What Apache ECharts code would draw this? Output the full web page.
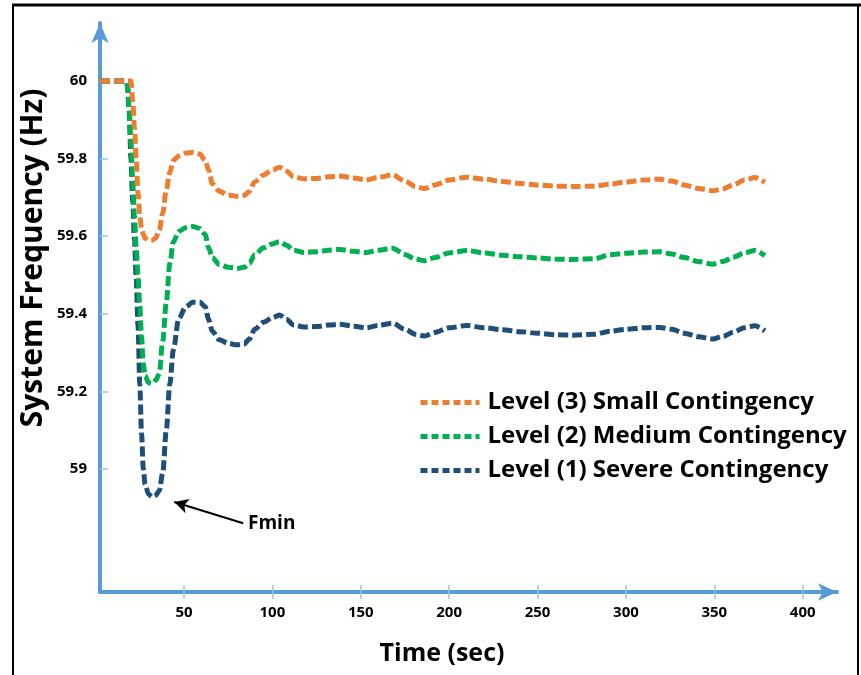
<!DOCTYPE html>
<html>
<head>
<meta charset="utf-8">
<script src="https://cdn.jsdelivr.net/npm/echarts@6/dist/echarts.min.js"></script>
<style>
  html, body { margin: 0; padding: 0; background: #fff; }
  #freqChart { width: 861px; height: 675px; }
</style>
</head>
<body>
<div id="freqChart"></div>
<script>
// time axis (sec) shared by the three curves
var timeData = [2.5, 10, 17, 18, 19, 20, 21, 22, 23, 24, 25, 26, 27, 28, 30, 32, 34, 36, 38, 40, 42, 44, 47, 51, 55, 59, 62, 64, 66, 70, 75, 80, 84, 87, 90, 95, 100, 104, 108, 112, 118, 125, 132, 138, 146, 153, 160, 168, 175, 181, 186, 192, 200, 210, 220, 230, 240, 250, 260, 270, 282, 291, 300, 310, 319, 326, 333, 341, 349, 355, 361, 367, 373, 378.6];

// Level (3) small contingency
var smallData = [60, 60, 60, 60, 60, 60, 59.95, 59.88, 59.80, 59.71, 59.65, 59.62, 59.605, 59.595, 59.59, 59.59, 59.595, 59.615, 59.66, 59.72, 59.765, 59.795, 59.807, 59.814, 59.816, 59.812, 59.795, 59.77, 59.735, 59.716, 59.706, 59.703, 59.705, 59.715, 59.74, 59.758, 59.77, 59.778, 59.768, 59.753, 59.748, 59.749, 59.753, 59.755, 59.75, 59.745, 59.752, 59.758, 59.742, 59.728, 59.723, 59.732, 59.745, 59.752, 59.747, 59.741, 59.736, 59.732, 59.729, 59.728, 59.729, 59.734, 59.74, 59.745, 59.747, 59.742, 59.732, 59.723, 59.717, 59.722, 59.733, 59.745, 59.751, 59.739];

// Level (2) medium contingency
var mediumData = [60, 60, 60, 59.99, 59.93, 59.84, 59.74, 59.65, 59.57, 59.50, 59.42, 59.34, 59.27, 59.24, 59.222, 59.22, 59.228, 59.245, 59.33, 59.43, 59.53, 59.585, 59.612, 59.622, 59.625, 59.62, 59.604, 59.57, 59.545, 59.527, 59.52, 59.517, 59.52, 59.53, 59.552, 59.57, 59.58, 59.586, 59.577, 59.564, 59.558, 59.56, 59.564, 59.566, 59.561, 59.558, 59.564, 59.569, 59.553, 59.541, 59.537, 59.545, 59.557, 59.563, 59.557, 59.551, 59.547, 59.544, 59.541, 59.54, 59.542, 59.552, 59.556, 59.559, 59.56, 59.554, 59.545, 59.535, 59.528, 59.535, 59.546, 59.557, 59.563, 59.55];

// Level (1) severe contingency
var severeData = [60, 60, 60, 59.99, 59.92, 59.80, 59.69, 59.59, 59.49, 59.37, 59.22, 59.09, 59.0, 58.96, 58.935, 58.928, 58.932, 58.944, 58.99, 59.1, 59.22, 59.307, 59.387, 59.418, 59.43, 59.43, 59.418, 59.385, 59.355, 59.333, 59.324, 59.32, 59.322, 59.335, 59.36, 59.378, 59.39, 59.397, 59.386, 59.371, 59.366, 59.367, 59.371, 59.373, 59.368, 59.364, 59.37, 59.376, 59.36, 59.347, 59.343, 59.352, 59.364, 59.37, 59.364, 59.359, 59.354, 59.35, 59.346, 59.345, 59.347, 59.355, 59.36, 59.364, 59.365, 59.36, 59.35, 59.341, 59.335, 59.342, 59.353, 59.364, 59.369, 59.356];

var xTicks = [50, 100, 150, 200, 250, 300, 350, 400];
var yTicks = [59, 59.2, 59.4, 59.6, 59.8, 60];
var legendData = ['Level (3) Small Contingency', 'Level (2) Medium Contingency', 'Level (1) Severe Contingency'];
var colors = ['#ED7D31', '#00B050', '#1F4E79'];

// Fmin arrow: from label side to the minimum of the severe curve
var fminArrow = [[83.5, 58.86], [44.5, 58.915]];

function pairs(vals) {
	var out = [];
	for (var i = 0; i < timeData.length; i++) {
		out.push([timeData[i], vals[i]]);
	}
	return out;
}

var FONT = '"Open Sans"';
var axisBlue = '#5B9BD5';
var tickBlue = '#9DC3E6';

var myChart = echarts.init(document.getElementById('freqChart'));

function lineSeries(name, data, color) {
	return {
		name: name,
		type: 'line',
		data: pairs(data),
		smooth: 0.3,
		smoothMonotone: 'x',
		symbol: 'none',
		lineStyle: { color: color, width: 5, type: [10, 4], cap: 'butt' },
		itemStyle: { color: color }
	};
}

var severe = lineSeries(legendData[2], severeData, colors[2]);
severe.markLine = {
	silent: true,
	animation: false,
	symbol: ['none', 'arrow'],
	symbolSize: [11, 14],
	label: { show: false },
	lineStyle: { color: '#000', width: 2, type: 'solid' },
	data: [[{ coord: fminArrow[0] }, { coord: fminArrow[1] }]]
};

var option = {
	animation: false,
	backgroundColor: '#fff',
	grid: { left: 100, right: 24, top: 23, bottom: 83 },
	legend: {
		data: legendData,
		orient: 'vertical',
		left: 418,
		top: 390,
		padding: 0,
		itemWidth: 59,
		itemHeight: 10,
		itemGap: 9,
		itemStyle: { opacity: 0 },
		lineStyle: { width: 5, type: [7, 4] },
		textStyle: { fontFamily: FONT, fontWeight: 'bold', fontSize: 24, lineHeight: 25, color: '#000', padding: [0, 0, 0, 3] }
	},
	xAxis: [{
		type: 'value',
		min: 2.5,
		max: 419.4,
		axisLine: {
			show: true, onZero: false,
			symbol: ['none', 'arrow'], symbolSize: [13, 19],
			lineStyle: { color: axisBlue, width: 4 }
		},
		axisTick: { show: true, length: 7, customValues: xTicks, lineStyle: { color: tickBlue, width: 1.5 } },
		axisLabel: {
			customValues: xTicks, margin: 13,
			fontFamily: FONT, fontWeight: 'bold', fontSize: 15, color: '#000'
		},
		splitLine: { show: false }
	}, {
		// upper half of the crossing tick marks
		type: 'value',
		position: 'bottom',
		min: 2.5,
		max: 419.4,
		axisLine: { show: false },
		axisTick: { show: true, inside: true, length: 7, customValues: xTicks, lineStyle: { color: tickBlue, width: 1.5 } },
		axisLabel: { show: false },
		splitLine: { show: false }
	}],
	yAxis: {
		type: 'value',
		min: 58.683,
		max: 60.1495,
		axisLine: {
			show: true, onZero: false,
			symbol: ['none', 'arrow'], symbolSize: [13, 20],
			lineStyle: { color: axisBlue, width: 4 }
		},
		axisTick: { show: true, inside: true, length: 8, customValues: yTicks, lineStyle: { color: tickBlue, width: 1.5 } },
		axisLabel: {
			customValues: yTicks, margin: 13,
			fontFamily: FONT, fontWeight: 'bold', fontSize: 15, color: '#000',
			formatter: function (v) { return String(+v.toFixed(1)); }
		},
		splitLine: { show: false }
	},
	graphic: [
		{ type: 'line', shape: { x1: 13, y1: 5, x2: 13, y2: 675 }, style: { stroke: '#000', lineWidth: 2 } },
		{ type: 'line', shape: { x1: 12, y1: 5, x2: 861, y2: 5 }, style: { stroke: '#000', lineWidth: 3 } },
		{ type: 'line', shape: { x1: 858, y1: 5, x2: 858, y2: 675 }, style: { stroke: '#000', lineWidth: 2 } },
		{
			type: 'text', x: 442, y: 654,
			style: { text: 'Time (sec)', fontFamily: FONT, fontWeight: 'bold', fontSize: 25, fill: '#000', align: 'center', verticalAlign: 'middle' }
		},
		{
			type: 'text', x: 33, y: 258, rotation: Math.PI / 2,
			style: { text: 'System Frequency (Hz)', fontFamily: FONT, fontWeight: 'bold', fontSize: 30, fill: '#000', align: 'center', verticalAlign: 'middle' }
		},
		{
			type: 'text', x: 248, y: 524,
			style: { text: 'Fmin', fontFamily: FONT, fontWeight: 'bold', fontSize: 19, fill: '#000', align: 'left', verticalAlign: 'middle' }
		}
	],
	series: [
		severe,
		lineSeries(legendData[1], mediumData, colors[1]),
		lineSeries(legendData[0], smallData, colors[0])
	]
};

myChart.setOption(option);
</script>
</body>
</html>
